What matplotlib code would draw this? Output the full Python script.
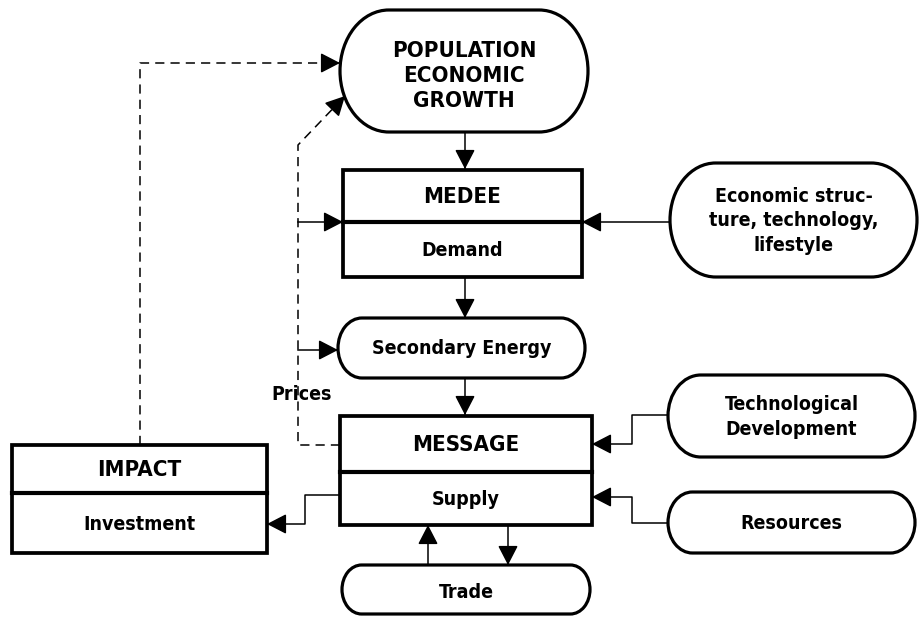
import matplotlib
matplotlib.use("Agg")
import numpy as np
import matplotlib.pyplot as plt
from matplotlib.patches import Rectangle, PathPatch
from matplotlib.path import Path
from matplotlib.transforms import Affine2D

# ---- content (labels) ----
pop_label = "POPULATION\nECONOMIC\nGROWTH"
medee_labels = ["MEDEE", "Demand"]
secondary_label = "Secondary Energy"
message_labels = ["MESSAGE", "Supply"]
impact_labels = ["IMPACT", "Investment"]
trade_label = "Trade"
econ_label = "Economic struc-\nture, technology,\nlifestyle"
techdev_label = "Technological\nDevelopment"
resources_label = "Resources"
prices_label = "Prices"

FONT = ["DejaVu Sans"]
STRETCH = "condensed"

fig = plt.figure(figsize=(9.19, 6.26), dpi=100)
ax = fig.add_axes([0, 0, 1, 1])
ax.set_xlim(0, 919)
ax.set_ylim(626, 0)
ax.axis("off")

def label(x, y, s, fs=14, ls=1.2):
    ax.text(x, y, s, ha="center", va="center", fontsize=fs, fontweight="bold",
            family=FONT, fontstretch=STRETCH, linespacing=ls, zorder=3)

def stadium(x0, y0, x1, y1, s, fs=14, ls=1.2, dy=1):
    h = y1 - y0
    ry = h / 2
    rx = 0.8 * ry
    cy = (y0 + y1) / 2
    right = Path.arc(-90, 90)
    left = Path.arc(90, 270)
    rv = Affine2D().scale(rx, ry).translate(x1 - rx, cy).transform(right.vertices)
    lv = Affine2D().scale(rx, ry).translate(x0 + rx, cy).transform(left.vertices)
    rc = list(right.codes)
    lc = list(left.codes)
    lc[0] = Path.LINETO
    verts = np.vstack([rv, lv, rv[:1]])
    codes = rc + lc + [Path.CLOSEPOLY]
    ax.add_patch(PathPatch(Path(verts, codes), fc="white", ec="black", lw=2.3,
                           zorder=2))
    label((x0 + x1) / 2, cy + dy, s, fs=fs, ls=ls)

def split_box(x0, y0, x1, y1, ydiv, labels, fs=14, fs_top=16):
    ax.add_patch(Rectangle((x0, y0), x1 - x0, y1 - y0, fc="white", ec="black",
                           lw=2.7, zorder=2))
    ax.plot([x0, x1], [ydiv, ydiv], color="black", lw=3.0, zorder=3)
    label((x0 + x1) / 2, (y0 + ydiv) / 2 + 1, labels[0], fs=fs_top)
    label((x0 + x1) / 2, (ydiv + y1) / 2 + 1, labels[1], fs=fs)

HEAD = "-|>,head_length=0.6,head_width=0.31"

def connector(pts, dashed=False):
    xs = [p[0] for p in pts]
    ys = [p[1] for p in pts]
    ax.plot(xs, ys, color="black", lw=1.1,
            ls=(0, (6, 4)) if dashed else "-", zorder=1)
    (xa, ya), (xb, yb) = pts[-2], pts[-1]
    d = ((xb - xa) ** 2 + (yb - ya) ** 2) ** 0.5
    xs0 = xb - (xb - xa) / d * 16
    ys0 = yb - (yb - ya) / d * 16
    ax.annotate("", xy=(xb, yb), xytext=(xs0, ys0),
                arrowprops=dict(arrowstyle=HEAD, mutation_scale=20, color="black",
                                lw=1.1, shrinkA=0, shrinkB=0), zorder=4)

# ---- nodes ----
stadium(340, 10, 588, 132, pop_label, fs=16, ls=1.3, dy=5)
split_box(343, 170, 582, 277, 222, medee_labels)
stadium(338, 318, 585, 378, secondary_label)
split_box(340, 416, 592, 525, 472, message_labels)
split_box(12, 445, 267, 553, 493, impact_labels)
stadium(342, 565, 590, 614, trade_label, dy=3)
stadium(670, 163, 917, 277, econ_label, ls=1.35)
stadium(668, 375, 915, 457, techdev_label, ls=1.4)
stadium(668, 492, 915, 553, resources_label)

label(302, 395, prices_label)

# ---- connections ----
connector([(465, 132), (465, 169)])
connector([(465, 277), (465, 318)])
connector([(465, 378), (465, 415)])
connector([(670, 222), (582, 222)])
connector([(668, 415), (632, 415), (632, 444), (592, 444)])
connector([(668, 523), (632, 523), (632, 497), (592, 497)])
connector([(340, 495), (305, 495), (305, 524), (267, 524)])
connector([(428, 565), (428, 525)])
connector([(508, 525), (508, 565)])
connector([(140, 445), (140, 63), (340, 63)], dashed=True)
connector([(340, 445), (298, 445), (298, 145), (345, 96)], dashed=True)
connector([(298, 222), (343, 222)])
connector([(298, 350), (338, 350)])

fig.savefig("out.png", dpi=100, facecolor="white")
